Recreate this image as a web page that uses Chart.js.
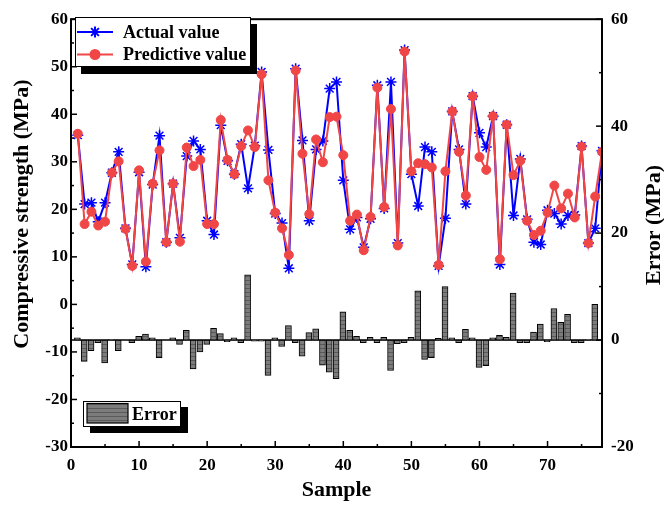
<!DOCTYPE html>
<html><head><meta charset="utf-8">
<script src="https://cdn.jsdelivr.net/npm/chart.js@4.4.1/dist/chart.umd.min.js"></script>
<style>html,body{margin:0;padding:0;background:#fff}</style>
</head><body>
<canvas id="c" width="664" height="508"></canvas>
<script>
// ---------- data ----------
const samples = [1,2,3,4,5,6,7,8,9,10,11,12,13,14,15,16,17,18,19,20,21,22,23,24,25,26,27,28,29,30,31,32,33,34,35,36,37,38,39,40,41,42,43,44,45,46,47,48,49,50,51,52,53,54,55,56,57,58,59,60,61,62,63,64,65,66,67,68,69,70,71,72,73,74,75,76,77,78];
const actualValues = [35.6,21.1,21.4,17.4,21.4,27.7,32.1,16.0,8.4,27.8,7.9,25.2,35.5,13.1,25.4,14.0,31.2,34.4,32.6,17.6,14.7,37.7,30.2,27.4,33.7,24.4,33.4,48.9,32.5,19.1,17.1,7.6,49.6,34.5,17.6,32.6,34.4,45.4,46.8,26.1,15.8,18.3,12.0,18.0,46.1,20.2,46.8,12.9,53.5,27.4,20.7,33.1,32.1,8.1,18.1,40.6,32.6,21.1,43.8,36.1,33.1,39.6,8.4,37.8,18.7,30.6,17.9,13.1,12.6,19.8,19.1,16.9,18.7,18.8,33.3,12.9,16.0,32.3];
const predictiveValues = [35.9,16.9,19.5,16.6,17.4,27.7,30.1,15.9,8.1,28.2,9.0,25.4,32.4,13.1,25.4,13.2,33.0,29.1,30.4,16.9,16.9,38.8,30.4,27.4,33.3,36.6,33.1,48.4,26.1,19.3,16.0,10.4,49.2,31.7,19.0,34.7,29.9,39.4,39.5,31.4,17.6,18.9,11.4,18.4,45.6,20.5,41.1,12.4,53.2,28.0,29.7,29.5,28.8,8.3,28.0,40.6,32.1,22.9,43.8,31.0,28.3,39.6,9.5,37.8,27.2,30.2,17.6,14.6,15.5,19.3,25.0,20.2,23.3,18.3,33.2,12.9,22.7,32.1];
const errorValues = [0.4,-4.0,-2.0,-0.5,-4.3,0.1,-2.0,0.0,-0.5,0.7,1.1,0.4,-3.3,0.0,0.4,-0.8,1.8,-5.4,-2.2,-0.8,2.2,1.2,-0.3,0.4,-0.5,12.2,-0.2,-0.2,-6.6,0.4,-1.2,2.7,-0.5,-3.0,1.4,2.1,-4.7,-6.0,-7.2,5.3,1.8,0.7,-0.5,0.5,-0.5,0.5,-5.7,-0.7,-0.5,0.5,9.2,-3.6,-3.3,0.3,10.0,0.4,-0.5,2.0,0.4,-5.1,-4.8,0.4,0.9,0.5,8.8,-0.5,-0.5,1.5,3.0,-0.3,5.9,3.3,4.8,-0.5,-0.5,0.1,6.7,-0.1];
const xTicks = [0,10,20,30,40,50,60,70];
const leftTicks = [-30,-20,-10,0,10,20,30,40,50,60];
const rightTicks = [-20,0,20,40,60];
const seriesNames = ['Actual value','Predictive value','Error'];
const axisTitles = {x:'Sample', y:'Compressive strength (MPa)', y2:'Error (MPa)'};

// ---------- styles ----------
const FONT = '"Liberation Serif","Times New Roman",serif';
const BLUE = '#0000ff';
const RED = '#f04646';
const GRAY = '#7c7c7c';

function makeHatch(){
  const c = document.createElement('canvas'); c.width = 6; c.height = 4;
  const g = c.getContext('2d');
  g.fillStyle = GRAY; g.fillRect(0,0,6,4);
  g.fillStyle = '#5a5a5a'; g.fillRect(0,0,6,1);
  return g.createPattern(c,'repeat');
}
const hatch = makeHatch();

const lineData = (vals) => samples.map((s,i)=>({x:s, y:vals[i]}));

const decor = {
  id:'decor',
  beforeDatasetsDraw(chart){
    const {ctx, chartArea:a, scales} = chart;
    const y0 = scales.y2.getPixelForValue(0);
    ctx.save();
    ctx.strokeStyle = '#000'; ctx.lineWidth = 1.5;
    ctx.beginPath(); ctx.moveTo(a.left, y0); ctx.lineTo(a.right, y0); ctx.stroke();
    ctx.restore();
  },
  afterDraw(chart){
    const {ctx, chartArea:a, scales} = chart;
    ctx.save();
    // frame
    ctx.strokeStyle = '#000'; ctx.lineWidth = 2;
    ctx.strokeRect(a.left, a.top, a.right - a.left, a.bottom - a.top);
    // inward ticks
    ctx.lineWidth = 1.5;
    const tick = (x1,y1,x2,y2)=>{ctx.beginPath();ctx.moveTo(x1,y1);ctx.lineTo(x2,y2);ctx.stroke();};
    xTicks.forEach((v,i)=>{
      const px = scales.x.getPixelForValue(v);
      if (i>0) tick(px, a.bottom, px, a.bottom-6);
      const m = scales.x.getPixelForValue(v+5);
      if (m < a.right-1) tick(m, a.bottom, m, a.bottom-3);
    });
    leftTicks.forEach((v,i)=>{
      const py = scales.y.getPixelForValue(v);
      tick(a.left, py, a.left+6, py);
      if (i < leftTicks.length-1){ const m = scales.y.getPixelForValue(v+5); tick(a.left, m, a.left+3, m); }
    });
    rightTicks.forEach((v,i)=>{
      const py = scales.y2.getPixelForValue(v);
      tick(a.right, py, a.right-6, py);
      if (i < rightTicks.length-1){ const m = scales.y2.getPixelForValue(v+10); tick(a.right, m, a.right-3, m); }
    });
    // axis titles
    ctx.fillStyle = '#000';
    ctx.font = 'bold 22px ' + FONT;
    ctx.textAlign = 'center'; ctx.textBaseline = 'middle';
    ctx.fillText(axisTitles.x, (a.left+a.right)/2, 490);
    ctx.save(); ctx.translate(22, 214); ctx.rotate(-Math.PI/2); ctx.fillText(axisTitles.y, 0, 0); ctx.restore();
    ctx.save(); ctx.translate(654, 225); ctx.rotate(-Math.PI/2); ctx.fillText(axisTitles.y2, 0, 0); ctx.restore();
    // legend boxes
    const box = (x,y,w,h,dx,dy)=>{
      ctx.fillStyle='#000'; ctx.fillRect(x+dx,y+dy,w,h);
      ctx.fillStyle='#fff'; ctx.fillRect(x,y,w,h);
      ctx.strokeStyle='#000'; ctx.lineWidth=1; ctx.strokeRect(x+0.5,y+0.5,w-1,h-1);
    };
    box(75,17,176,50,6,7);
    ctx.font = 'bold 18px ' + FONT;
    ctx.textAlign = 'left'; ctx.textBaseline = 'middle';
    // actual
    ctx.strokeStyle = BLUE; ctx.lineWidth = 2;
    tick(77,32,113,32);
    ctx.fillStyle = BLUE;
    Chart.helpers.drawPoint(ctx, {pointStyle:'star', radius:5.5, borderWidth:1.5, rotation:0}, 95, 32);
    ctx.fillStyle = '#000'; ctx.fillText(seriesNames[0], 123, 33);
    // predictive
    ctx.strokeStyle = RED; ctx.lineWidth = 2;
    tick(77,54.5,113,54.5);
    ctx.fillStyle = RED;
    Chart.helpers.drawPoint(ctx, {pointStyle:'circle', radius:4.5, borderWidth:1, rotation:0}, 95, 54.5);
    ctx.fillStyle = '#000'; ctx.fillText(seriesNames[1], 123, 55.5);
    // error legend
    box(83,401,98,26,7,6);
    ctx.fillStyle = hatch; ctx.fillRect(87,403.5,41,19.5);
    ctx.strokeStyle = '#000'; ctx.lineWidth = 1.2; ctx.strokeRect(87,403.5,41,19.5);
    ctx.fillStyle = '#000'; ctx.fillText(seriesNames[2], 132, 415);
    ctx.restore();
  }
};

const tickFont = {family: FONT, size: 17, weight: 'bold'};

new Chart(document.getElementById('c'), {
  type: 'line',
  data: {
    datasets: [
      {label: seriesNames[1], data: lineData(predictiveValues), xAxisID:'x', yAxisID:'y',
       borderColor: RED, backgroundColor: RED, borderWidth: 2, pointStyle:'circle', pointRadius: 4.5,
       pointBorderWidth: 1, pointBackgroundColor: RED, pointBorderColor: RED, tension: 0, order: 1, clip: 0},
      {label: seriesNames[0], data: lineData(actualValues), xAxisID:'x', yAxisID:'y',
       borderColor: BLUE, backgroundColor: BLUE, borderWidth: 2, pointStyle:'star', pointRadius: 5.5,
       pointBorderWidth: 1.5, pointBorderColor: BLUE, tension: 0, order: 2, clip: 0},
      {type:'bar', label: seriesNames[2], data: samples.map((s,i)=>({x:s, y:errorValues[i]})),
       xAxisID:'x2', yAxisID:'y2', backgroundColor: hatch, borderColor:'#000', borderWidth: 1,
       barThickness: 6, order: 3, borderSkipped: false}
    ]
  },
  options: {
    responsive: false, animation: false, devicePixelRatio: 1,
    layout: {padding: {top: 13.5, left: 0, right: 0, bottom: 0}},
    plugins: {legend: {display: false}, tooltip: {enabled: false}},
    scales: {
      x: {type:'linear', position:'bottom', min: 0, max: 78, offset: false,
          afterFit(s){ s.height = 61; },
          afterBuildTicks(s){ s.ticks = xTicks.map(v=>({value:v})); },
          grid:{display:false, drawTicks:false, offset:false}, border:{display:false},
          ticks:{font: tickFont, color:'#000', padding: 8, maxRotation:0, autoSkip:false}},
      x2: {type:'linear', display:false, min: 0.5, max: 78.5, offset: false, grid:{offset:false}},
      y: {type:'linear', position:'left', min:-30, max:60,
          afterFit(s){ s.width = 71; },
          afterBuildTicks(s){ s.ticks = leftTicks.map(v=>({value:v})); },
          grid:{display:false, drawTicks:false}, border:{display:false},
          ticks:{font: tickFont, color:'#000', padding: 3}},
      y2: {type:'linear', position:'right', min:-20, max:60,
          afterFit(s){ s.width = 62; },
          afterBuildTicks(s){ s.ticks = rightTicks.map(v=>({value:v})); },
          grid:{display:false, drawTicks:false}, border:{display:false},
          ticks:{font: tickFont, color:'#000', padding: 9}}
    }
  },
  plugins: [decor]
});
</script>
</body></html>
